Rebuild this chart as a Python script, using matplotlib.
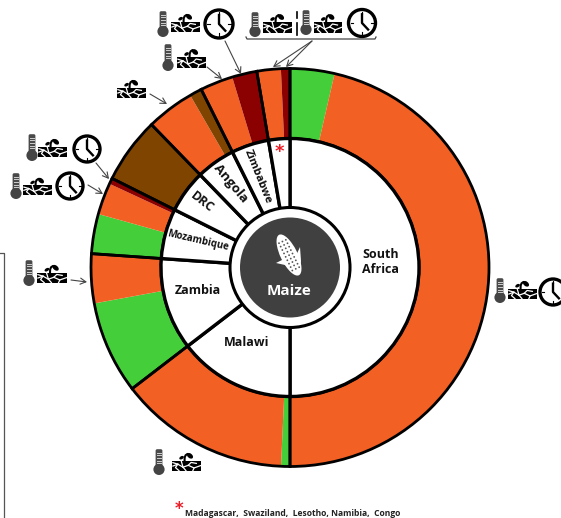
#!/usr/bin/env python3
import matplotlib

matplotlib.use("Agg")
import matplotlib.pyplot as plt
from matplotlib.patches import Circle, Ellipse, FancyArrowPatch, FancyBboxPatch, PathPatch, Polygon, Rectangle
from matplotlib.path import Path
from matplotlib.transforms import Affine2D

ORANGE = "#F26024"
GREEN = "#44CF3A"
DARK_RED = "#8B0000"
BROWN = "#7F4400"

countries = ["South\nAfrica", "Malawi", "Zambia", "Mozambique", "DRC", "Angola", "Zimbabwe", ""]
label_sizes = [9, 9, 9, 7, 9, 9.5, 8, 9]
label_rotation = [0, 0, 0, -13, -38, -50, -68, 0]
label_px = [(381, 262), (247, 342), (198, 291), (198, 241), (202, 202), (231, 183), (258, 177), (279, 148)]

# percent of production per country, split by stress class
stress_shares = [
    [3.6, 46.4],
    [0.72, 13.86],
    [7.53, 4.0],
    [3.22, 2.58, 0.48],
    [5.36],
    [3.89, 1.0],
    [2.67, 2.02],
    [1.94, 0.73],
]
stress_colors = [
    [GREEN, ORANGE],
    [GREEN, ORANGE],
    [GREEN, ORANGE],
    [GREEN, ORANGE, DARK_RED],
    [BROWN],
    [ORANGE, BROWN],
    [ORANGE, DARK_RED],
    [ORANGE, DARK_RED],
]
footnote = "Madagascar,  Swaziland,  Lesotho, Namibia,  Congo"

CX, CY = 290, 267.5
FONT = "Open Sans"


def thermometer(ax, x, top, bottom):
    r = 5.6
    ax.add_patch(FancyBboxPatch((x - 1.8, top + 1.8), 3.6, bottom - top - 6, boxstyle="round,pad=1.6", fc="#4a4a4a", ec="none", zorder=5))
    ax.add_patch(Circle((x, bottom - r), r, fc="#444444", ec="none", zorder=5))
    for i in range(5):
        y = top + 3.5 + i * 2.7
        ax.plot([x - 1.6, x + 1.6], [y, y], color="#cfcfcf", lw=0.7, zorder=6)


def soil(ax, x0, top, x1, bottom):
    w = x1 - x0
    h = bottom - top
    ax.add_patch(Rectangle((x0, top + h * 0.46), w, h * 0.54, fc="black", ec="none", zorder=5))
    cracks = [
        [(0.03, 0.74), (0.2, 0.64), (0.38, 0.8), (0.56, 0.7), (0.76, 0.84), (0.98, 0.72)],
        [(0.2, 0.64), (0.12, 0.82), (0.24, 0.98)],
        [(0.38, 0.8), (0.48, 0.98)],
        [(0.56, 0.7), (0.66, 0.55), (0.84, 0.6)],
        [(0.76, 0.84), (0.72, 0.98)],
        [(0.32, 0.48), (0.38, 0.8)],
        [(0.03, 0.56), (0.2, 0.64)],
    ]
    for crack in cracks:
        ax.plot([x0 + c[0] * w for c in crack], [top + c[1] * h for c in crack], color="white", lw=0.9, zorder=6)
    stem = Path(
        [(x0 + 0.44 * w, top + 0.55 * h), (x0 + 0.4 * w, top + 0.12 * h), (x0 + 0.56 * w, top + 0.1 * h)],
        [Path.MOVETO, Path.CURVE3, Path.CURVE3],
    )
    ax.add_patch(PathPatch(stem, fc="none", ec="black", lw=1.5, zorder=5))
    ax.add_patch(Ellipse((x0 + 0.62 * w, top + 0.2 * h), w * 0.24, h * 0.24, angle=40, fc="black", ec="none", zorder=5))
    ax.add_patch(Ellipse((x0 + 0.33 * w, top + 0.3 * h), w * 0.17, h * 0.16, angle=-30, fc="black", ec="none", zorder=5))


def clock(ax, cx, cy, r):
    ax.add_patch(Circle((cx, cy), r - 1, fc="white", ec="black", lw=2.4, zorder=5))
    ax.plot([cx, cx, cx + r * 0.42], [cy - r * 0.6, cy, cy + r * 0.45], color="black", lw=1.7, zorder=6)
    for dx, dy in [(0, -1), (0, 1), (1, 0), (-1, 0)]:
        ax.plot([cx + dx * r * 0.62, cx + dx * r * 0.78], [cy + dy * r * 0.62, cy + dy * r * 0.78], color="black", lw=0.8, zorder=6)


def arrow(ax, start, end):
    ax.add_patch(
        FancyArrowPatch(start, end, arrowstyle="->,head_length=4,head_width=2.2", color="#444444", lw=0.8, shrinkA=0, shrinkB=0, zorder=7)
    )


def corn(ax, cx, cy):
    rot = Affine2D().rotate_deg_around(cx, cy, -26) + ax.transData
    ax.add_patch(Ellipse((cx, cy), 17, 45, fc="white", ec="none", transform=rot, zorder=6))
    for row in range(9):
        for col in range(-1, 2):
            y = cy - 15 + row * 3.8
            x = cx + col * 3.8
            if ((x - cx) / 8.5) ** 2 + ((y - cy) / 22.5) ** 2 < 0.75:
                ax.add_patch(Circle((x, y), 0.9, fc="#555555", ec="none", transform=rot, zorder=7))
    ax.add_patch(Polygon([(cx + 10, cy + 20), (cx + 5, cy + 5), (cx + 11, cy - 8), (cx + 12, cy + 6)], fc="white", ec="none", zorder=5))
    ax.add_patch(Polygon([(cx + 10, cy + 20), (cx - 4, cy + 10), (cx - 13, cy + 8), (cx - 5, cy + 4)], fc="white", ec="none", zorder=5))


fig = plt.figure(figsize=(5.61, 5.18), dpi=100)
ax = fig.add_axes([0, 0, 1, 1])

flat_shares = [v for group in stress_shares for v in group]
flat_colors = [c for group in stress_colors for c in group]
country_shares = [sum(group) for group in stress_shares]

# y axis runs downward (image pixels), so counterclock=True draws clockwise on screen
ax.pie(flat_shares, colors=flat_colors, center=(CX, CY), radius=199, startangle=-90, counterclock=True,
       wedgeprops={"width": 70, "edgecolor": "none", "linewidth": 0})
ax.pie(country_shares, colors=["none"] * 8, center=(CX, CY), radius=199, startangle=-90, counterclock=True,
       wedgeprops={"width": 70, "edgecolor": "black", "linewidth": 2.0, "facecolor": "none"})
ax.pie(country_shares, colors=["white"] * 8, center=(CX, CY), radius=129, startangle=-90, counterclock=True,
       wedgeprops={"width": 70, "edgecolor": "black", "linewidth": 2.4})
ax.add_patch(Circle((CX, CY), 60, fc="white", ec="black", lw=2.2, zorder=4))
ax.add_patch(Circle((CX, CY), 50, fc="#404040", ec="none", zorder=5))
corn(ax, 289, 255)
ax.text(289, 291, "Maize", color="white", fontsize=11, fontweight="bold", family=FONT, ha="center", va="center", zorder=8)

for name, px, size, rot in zip(countries, label_px, label_sizes, label_rotation):
    if name:
        ax.text(px[0], px[1], name, fontsize=size, fontweight="bold", family=FONT, color="#111111",
                ha="center", va="center", rotation=rot, rotation_mode="anchor", linespacing=1.25, zorder=8)
ax.text(279, 152, "*", color="#EE1C25", fontsize=13, fontweight="bold", family="DejaVu Sans", ha="center", va="center", zorder=8)

# icon groups
thermometer(ax, 163, 11, 37); soil(ax, 171, 13, 200, 32); clock(ax, 219, 24, 15)
thermometer(ax, 255, 12, 37); soil(ax, 263, 13, 292, 33)
thermometer(ax, 306, 10, 35); soil(ax, 314, 13, 342, 33); clock(ax, 362, 23, 14.5)
thermometer(ax, 168, 44, 71); soil(ax, 177, 48, 206, 68)
soil(ax, 117, 79, 146, 98)
thermometer(ax, 32, 134, 161); soil(ax, 38, 138, 67, 157); clock(ax, 87, 149, 14)
thermometer(ax, 16, 173, 199); soil(ax, 23, 177, 52, 195); clock(ax, 70, 186, 14)
thermometer(ax, 29, 260, 286); soil(ax, 37, 264, 67, 283)
thermometer(ax, 500, 278, 303); soil(ax, 508, 280, 537, 299); clock(ax, 553, 292, 14)
thermometer(ax, 159, 449, 475); soil(ax, 172, 452, 201, 471)

ax.plot([297, 297], [12, 18], color="black", lw=1.2)
ax.plot([297, 297], [23, 35], color="black", lw=1.2)
ax.plot([246, 247, 375, 376], [37, 39, 39, 37], color="#444444", lw=0.9)

arrow(ax, (225, 41), (241, 74))
arrow(ax, (312, 41), (273, 67))
arrow(ax, (312, 41), (286, 67))
arrow(ax, (207, 67), (222, 79))
arrow(ax, (150, 94), (167, 104))
arrow(ax, (96, 163), (109, 179))
arrow(ax, (88, 185), (103, 194))
arrow(ax, (71, 280), (87, 282))

# cropped frame at the left edge
ax.plot([0, 4, 4], [253, 253, 518], color="#555555", lw=0.9)

ax.text(179, 514, "*", color="#EE1C25", fontsize=12, fontweight="bold", family="DejaVu Sans", ha="center", va="baseline")
ax.text(185, 513, footnote, fontsize=6.1, fontweight="bold", family=FONT, color="#222222", ha="left", va="center")

ax.set_xlim(0, 561)
ax.set_ylim(518, 0)
ax.axis("off")
fig.savefig("out.png", dpi=100)
